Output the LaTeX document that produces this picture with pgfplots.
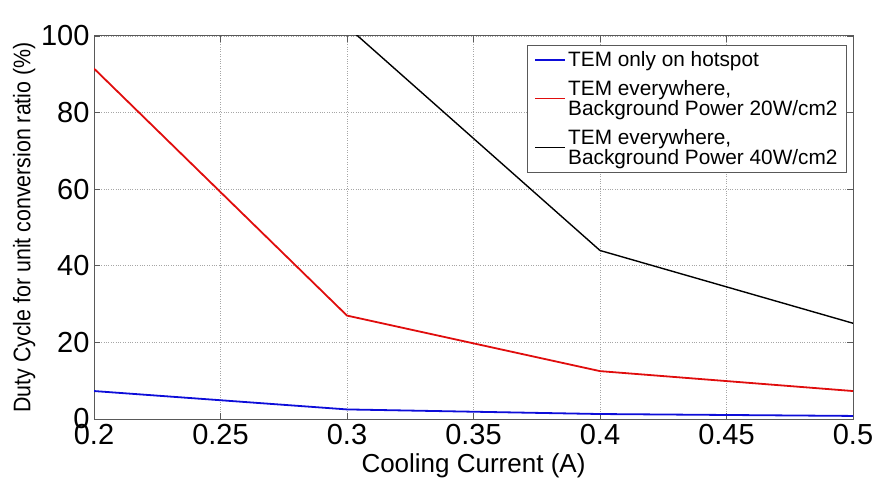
\documentclass[border=0pt]{standalone}
\usepackage{pgfplots}
\pgfplotsset{compat=1.18}
\usepackage{fontspec}
\setmainfont{Liberation Sans}
\definecolor{myblue}{rgb}{0.05,0.05,0.85}
\definecolor{myred}{rgb}{0.88,0.05,0.05}
\pgfplotsset{
  mylegimg/.style={legend image code/.code={\draw[mark repeat=2,mark phase=2,##1] plot coordinates {(0pt,0pt) (15pt,0pt) (30pt,0pt)};}},
}
\begin{document}
\begin{tikzpicture}[x=1pt,y=1pt]
\path[use as bounding box] (0,0) rectangle (877,479);
\begin{axis}[
  at={(94pt,60pt)}, anchor=south west,
  scale only axis, width=759pt, height=383pt,
  xmin=0.2, xmax=0.5, ymin=0, ymax=100,
  xtick={0.2,0.25,0.3,0.35,0.4,0.45,0.5},
  xticklabels={0.2,0.25,0.3,0.35,0.4,0.45,0.5},
  ytick={0,20,40,60,80,100},
  /pgf/number format/assume math mode=true,
  tick label style={font=\fontsize{29}{32}\selectfont},
  xticklabel style={yshift=-2pt},
  yticklabel style={xshift=-1pt},
  tick align=inside,
  major tick length=6pt,
  tick style={gray!70!black, line width=0.6pt},
  axis line style={gray!70!black, line width=1pt},
  grid=major,
  grid style={dotted, gray!70, line width=0.6pt},
  xlabel={Cooling Current (A)},
  ylabel={\scalebox{0.89}[1]{Duty Cycle for unit conversion ratio (\%)}},
  xlabel style={font=\fontsize{26}{29}\selectfont, at={(0.5,0)}, anchor=north, yshift=-31pt},
  ylabel style={font=\fontsize{24}{27}\selectfont, at={(0,0.5)}, anchor=south, yshift=55pt},
  mylegimg,
  legend style={at={(0.992,0.9765)}, anchor=north east, draw=gray!70!black, line width=0.8pt,
    font=\fontsize{20.8}{20.5}\selectfont,
    cells={anchor=west, align=left, text height=, text depth=},
    inner xsep=7pt, inner ysep=4pt, row sep=8pt},
  clip=true,
]
\addplot[myblue, line width=1.8pt] coordinates {(0.2,7.3) (0.3,2.5) (0.4,1.3) (0.5,0.8)};
\addlegendentry{TEM only on hotspot}
\addplot[myred, line width=1.8pt] coordinates {(0.2,91.5) (0.3,27.0) (0.4,12.5) (0.5,7.3)};
\addlegendentry{{TEM everywhere,\\Background Power 20W/cm2}}
\addplot[black, line width=1.4pt] coordinates {(0.3,102.5) (0.4,44.0) (0.5,25.0)};
\addlegendentry{{TEM everywhere,\\Background Power 40W/cm2}}
\end{axis}
\end{tikzpicture}
\end{document}
